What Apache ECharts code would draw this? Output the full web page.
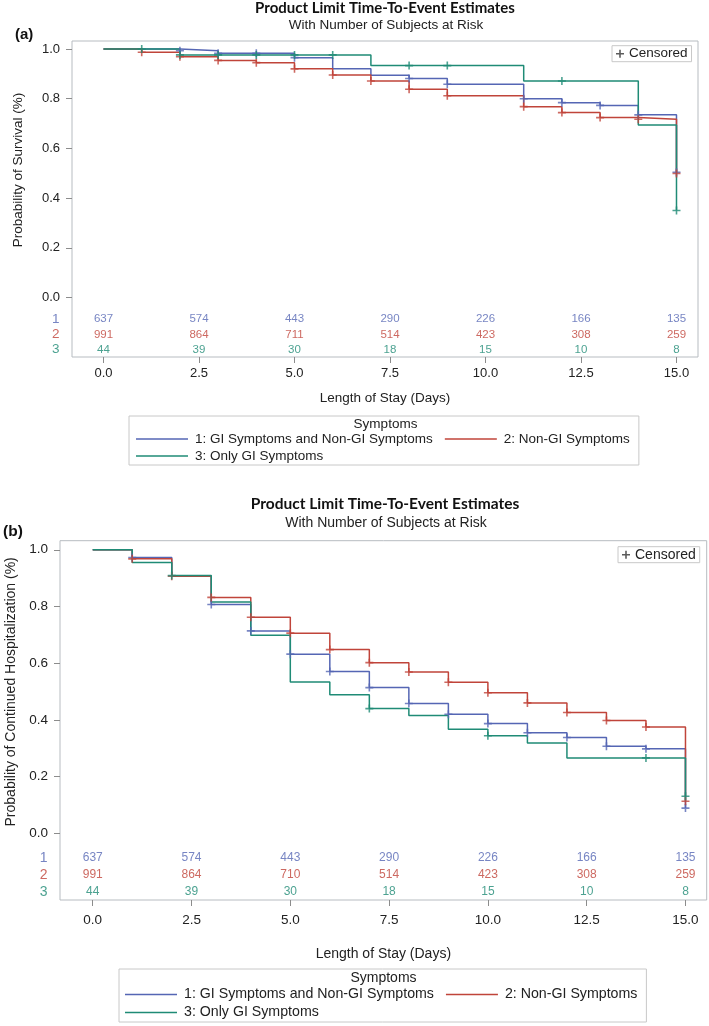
<!DOCTYPE html>
<html><head><meta charset="utf-8">
<script src="https://cdn.jsdelivr.net/npm/echarts@6/dist/echarts.min.js"></script>
<style>html,body{margin:0;padding:0;background:#fff}#c{width:709px;height:1026px}</style>
</head><body><div id="c"></div>
<script>
// ---------- data ----------
const days = [0,1,2,3,4,5,6,7,8,9,10,11,12,13,14,15];
const riskTimes = [0,2.5,5,7.5,10,12.5,15];
const yTicks = [0,0.2,0.4,0.6,0.8,1.0];
const groupNames = ['1: GI Symptoms and Non-GI Symptoms','2: Non-GI Symptoms','3: Only GI Symptoms'];
const groupIds = ['1','2','3'];

// Panel (a): probability of survival
const survA1 = [1,1,0.993,0.983,0.983,0.965,0.92,0.894,0.881,0.858,0.858,0.80,0.784,0.773,0.735,0.504];
const survA2 = [1,0.987,0.969,0.954,0.945,0.92,0.895,0.871,0.838,0.812,0.812,0.768,0.744,0.724,0.717,0.499];
const survA3 = [1,1,0.976,0.976,0.976,0.976,0.976,0.933,0.933,0.933,0.933,0.871,0.871,0.871,0.694,0.35];
const censA1 = [2,3,4,5,8,9,11,12,13,14,15];
const censA2 = [1,2,3,4,5,6,7,8,9,11,12,13,14,15];
const censA3 = [1,2,3,4,5,6,8,9,12,15];
const riskA1 = [637,574,443,290,226,166,135];
const riskA2 = [991,864,711,514,423,308,259];
const riskA3 = [44,39,30,18,15,10,8];

// Panel (b): probability of continued hospitalization
const survB1 = [1,0.973,0.907,0.807,0.714,0.632,0.571,0.514,0.458,0.42,0.387,0.355,0.338,0.307,0.298,0.089];
const survB2 = [1,0.968,0.907,0.832,0.762,0.706,0.648,0.602,0.569,0.533,0.496,0.46,0.426,0.398,0.375,0.113];
const survB3 = [1,0.955,0.909,0.816,0.699,0.534,0.489,0.44,0.416,0.367,0.344,0.319,0.266,0.266,0.266,0.131];
const censB1 = [1,3,4,5,6,7,8,9,10,11,12,13,14,15];
const censB2 = [1,2,3,4,5,6,7,8,9,10,11,12,13,14,15];
const censB3 = [2,7,10,14,15];
const riskB1 = [637,574,443,290,226,166,135];
const riskB2 = [991,864,710,514,423,308,259];
const riskB3 = [44,39,30,18,15,10,8];

// ---------- styles / layout ----------
const FONT = '"Liberation Sans", Arial, sans-serif';
const TFONT = 'Lato, "Open Sans", sans-serif';
const colors = ['#5566b4', '#c0443a', '#1f8b76'];
const PLUS = 'path://M4,0H6V4H10V6H6V10H4V6H0V4H4Z';
const LINEICON = 'path://M0,0H52V1.5H0Z';

const panels = [
  { surv:[survA1,survA2,survA3], cens:[censA1,censA2,censA3], risk:[riskA1,riskA2,riskA3],
    grid:{left:72, top:41, width:626, height:316},
    xMin:-0.825, xMax:15.563, yMin:-0.239, yMax:1.032, riskY:[-0.087,-0.148,-0.209],
    yName:'Probability of Survival (%)', yNameGap:47, yNamePad:58, fs:13, nfs:13.5,
    xNameGap:34, xLabelMargin:10, riskFs:11.5 },
  { surv:[survB1,survB2,survB3], cens:[censB1,censB2,censB3], risk:[riskB1,riskB2,riskB3],
    grid:{left:60, top:540.7, width:646.7, height:359.3},
    xMin:-0.828, xMax:15.537, yMin:-0.235, yMax:1.032, riskY:[-0.086,-0.147,-0.207],
    yName:'Probability of Continued Hospitalization (%)', yNameGap:42, yNamePad:57, fs:13.5, nfs:14,
    xNameGap:47, xLabelMargin:13, riskFs:12 }
];

const grids = [], xAxes = [], yAxes = [], series = [];
panels.forEach((p, i) => {
  grids.push(Object.assign({show:true, borderColor:'#b7bcc1', borderWidth:1, backgroundColor:'transparent',
    containLabel:false, outerBoundsMode:'none'}, p.grid));
  xAxes.push({
    gridIndex:i, type:'value', min:p.xMin, max:p.xMax, position:'bottom',
    axisLine:{show:false, onZero:false}, splitLine:{show:false},
    axisTick:{show:true, customValues:riskTimes, length:6, lineStyle:{color:'#8c8c8c'}},
    axisLabel:{customValues:riskTimes, formatter:v=>v.toFixed(1), margin:p.xLabelMargin, fontSize:p.fs, color:'#222', fontFamily:FONT},
    name:'Length of Stay (Days)', nameLocation:'middle', nameGap:p.xNameGap,
    nameTextStyle:{fontSize:p.nfs, color:'#222', fontFamily:FONT}
  });
  yAxes.push({
    gridIndex:i, type:'value', min:p.yMin, max:p.yMax, position:'left',
    axisLine:{show:false, onZero:false}, splitLine:{show:false},
    axisTick:{show:true, customValues:yTicks, length:6, lineStyle:{color:'#8c8c8c'}},
    axisLabel:{customValues:yTicks, formatter:v=>v.toFixed(1), margin:12, fontSize:p.fs, color:'#222', fontFamily:FONT},
    name:p.yName, nameLocation:'middle', nameGap:p.yNameGap,
    nameTextStyle:{fontSize:p.nfs, color:'#222', fontFamily:FONT, padding:[0,0,0,p.yNamePad]}
  });
  for (let g = 0; g < 3; g++) {
    series.push({
      type:'line', name:groupNames[g], xAxisIndex:i, yAxisIndex:i, step:'end',
      symbol:'none', data:days.map((d,k)=>[d, p.surv[g][k]]),
      lineStyle:{color:colors[g], width:1.5}, itemStyle:{color:colors[g]}, silent:true, z:3
    });
    series.push({
      type:'scatter', name:'Censored', xAxisIndex:i, yAxisIndex:i,
      symbol:PLUS, symbolSize:[8,8], itemStyle:{color:colors[g]}, silent:true, z:4,
      data:p.cens[g].map(d=>[d, p.surv[g][days.indexOf(d)]])
    });
    series.push({
      type:'scatter', name:'risk'+i+g, xAxisIndex:i, yAxisIndex:i, symbolSize:1,
      itemStyle:{color:'transparent'}, silent:true,
      data:riskTimes.map((t,k)=>[t, p.riskY[g], p.risk[g][k]]),
      label:{show:true, position:'inside', formatter:q=>String(q.value[2]), color:colors[g], fontSize:p.riskFs, fontFamily:FONT}
    });
    series.push({
      type:'scatter', name:'row'+i+g, xAxisIndex:i, yAxisIndex:i, symbolSize:1,
      itemStyle:{color:'transparent'}, silent:true,
      data:[[p.xMin, p.riskY[g]]],
      label:{show:true, position:'left', distance:12, formatter:groupIds[g], color:colors[g], fontSize:p.fs+0.5, fontFamily:FONT}
    });
  }
});

const symLegend = (left, top, fs, pad, lh) => ({
  data:groupNames.map((n,g)=>({name:n, icon:LINEICON, itemStyle:{color:colors[g]}})),
  left, top, width:600, orient:'horizontal', selectedMode:false,
  itemWidth:52, itemHeight:14, itemGap:3, padding:pad, symbolKeepAspect:true,
  borderColor:'#c8c8c8', borderWidth:1, backgroundColor:'#fff',
  textStyle:{fontSize:fs, color:'#222', fontFamily:FONT, lineHeight:lh, padding:[0,9,0,2]}
});
const cenLegend = (left, top, fs) => ({
  data:[{name:'Censored', icon:PLUS, itemStyle:{color:'#333'}}], left, top, selectedMode:false,
  itemWidth:8, itemHeight:8, padding:[1,4,1,4], borderColor:'#c8c8c8', borderWidth:1, backgroundColor:'#fff',
  textStyle:{fontSize:fs, color:'#222', fontFamily:FONT}
});

const titles = [
  {text:'Product Limit Time-To-Event Estimates', left:385, top:1, textAlign:'center', padding:0,
   textStyle:{fontFamily:TFONT, fontWeight:'bold', fontSize:15, color:'#111'}},
  {text:'With Number of Subjects at Risk', left:386, top:18, textAlign:'center', padding:0,
   textStyle:{fontFamily:FONT, fontWeight:'normal', fontSize:13.5, color:'#222'}},
  {text:'(a)', left:15, top:27, padding:0, textStyle:{fontFamily:FONT, fontWeight:'bold', fontSize:15, color:'#111'}},
  {text:'Symptoms', left:385.5, top:417, textAlign:'center', padding:0,
   textStyle:{fontFamily:FONT, fontWeight:'normal', fontSize:13.5, color:'#222'}},
  {text:'Product Limit Time-To-Event Estimates', left:385, top:496, textAlign:'center', padding:0,
   textStyle:{fontFamily:TFONT, fontWeight:'bold', fontSize:15.5, color:'#111'}},
  {text:'With Number of Subjects at Risk', left:386, top:516, textAlign:'center', padding:0,
   textStyle:{fontFamily:FONT, fontWeight:'normal', fontSize:14, color:'#222'}},
  {text:'(b)', left:3, top:524, padding:0, textStyle:{fontFamily:FONT, fontWeight:'bold', fontSize:15.5, color:'#111'}},
  {text:'Symptoms', left:383.5, top:971, textAlign:'center', padding:0,
   textStyle:{fontFamily:FONT, fontWeight:'normal', fontSize:14, color:'#222'}}
];

const chart = echarts.init(document.getElementById('c'), null, {renderer:'canvas'});
chart.setOption({
  animation:false, backgroundColor:'#fff',
  title:titles,
  legend:[
    symLegend(129, 416, 13.5, [16,0,2,7], 14),
    symLegend(119, 969, 14.2, [18,0,2,6], 15),
    cenLegend(612, 45.7, 13.5),
    cenLegend(618, 546.7, 14)
  ],
  grid:grids, xAxis:xAxes, yAxis:yAxes, series
});
</script></body></html>
